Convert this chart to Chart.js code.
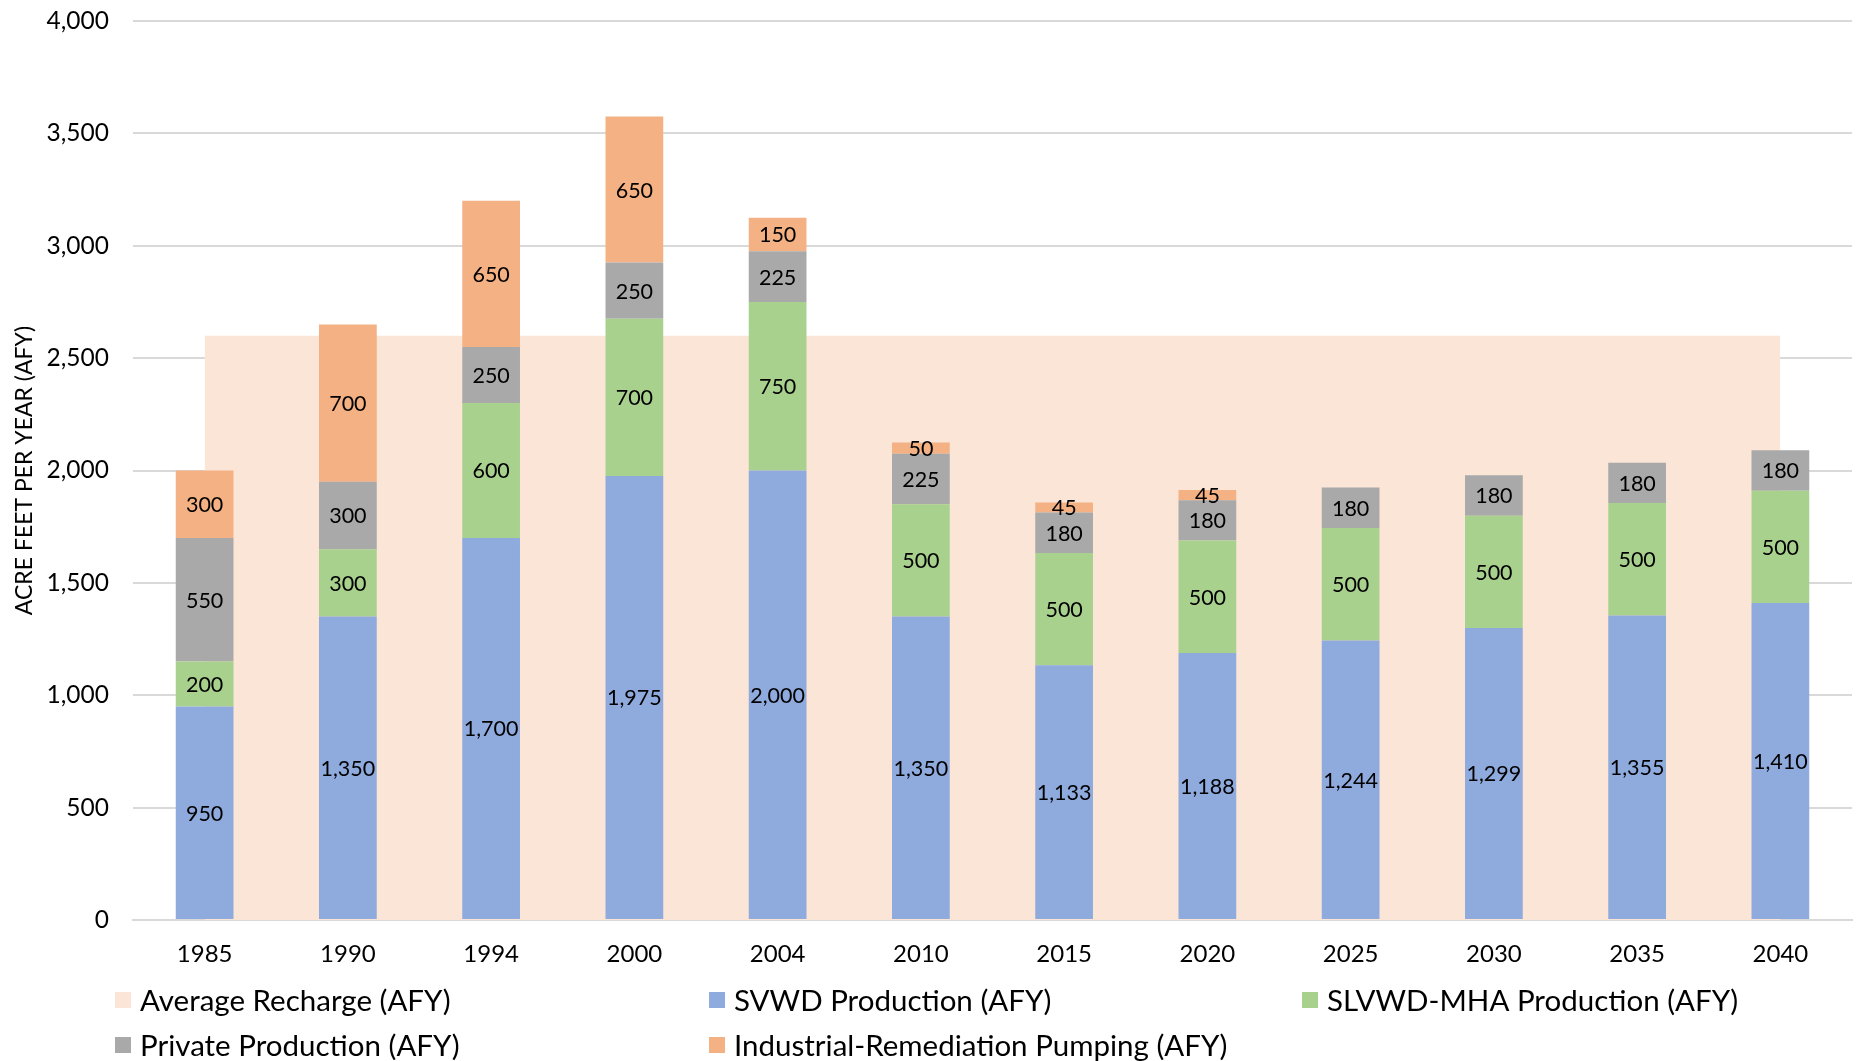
<!DOCTYPE html>
<html>
<head>
<meta charset="utf-8">
<script src="https://cdn.jsdelivr.net/npm/chart.js@4/dist/chart.umd.min.js"></script>
<style>
  html, body { margin: 0; padding: 0; background: #fff; }
  #wrap { width: 1861px; height: 1061px; position: relative; }
</style>
</head>
<body>
<div id="wrap"><canvas id="chart"></canvas></div>
<script>
// Categories (years) and series values, in acre feet per year
const years = ['1985', '1990', '1994', '2000', '2004', '2010', '2015', '2020', '2025', '2030', '2035', '2040'];
const averageRecharge = [2600, 2600, 2600, 2600, 2600, 2600, 2600, 2600, 2600, 2600, 2600, 2600];
const svwdProduction = [950, 1350, 1700, 1975, 2000, 1350, 1133, 1188, 1244, 1299, 1355, 1410];
const slvwdMhaProduction = [200, 300, 600, 700, 750, 500, 500, 500, 500, 500, 500, 500];
const privateProduction = [550, 300, 250, 250, 225, 225, 180, 180, 180, 180, 180, 180];
const industrialRemediation = [300, 700, 650, 650, 150, 50, 45, 45, null, null, null, null];
const yTicks = [0, 500, 1000, 1500, 2000, 2500, 3000, 3500, 4000];

const FONT = 'Lato, "Noto Sans", sans-serif';
const fmt = v => Number(v).toLocaleString('en-US');

// Writes each bar segment's value in the middle of the segment
const segmentLabels = {
  id: 'segmentLabels',
  afterDatasetsDraw(chart) {
    const ctx = chart.ctx;
    ctx.save();
    ctx.font = '21.5px ' + FONT;
    ctx.fillStyle = '#000';
    ctx.textAlign = 'center';
    ctx.textBaseline = 'middle';
    chart.data.datasets.forEach((ds, i) => {
      if (ds.type !== 'bar') return;
      const meta = chart.getDatasetMeta(i);
      meta.data.forEach((el, j) => {
        const v = ds.data[j];
        if (v === null || v === undefined) return;
        const y = (el.y + el.base) / 2;
        ctx.fillText(fmt(v), el.x, y + 1);
      });
    });
    ctx.restore();
  }
};

// Two-row legend laid out in fixed columns under the axis
const columnLegend = {
  id: 'columnLegend',
  afterDraw(chart) {
    const ctx = chart.ctx;
    const colX = [115, 709, 1302];
    const rowY = [1000, 1045];
    ctx.save();
    ctx.font = '29.5px ' + FONT;
    ctx.textBaseline = 'middle';
    ctx.textAlign = 'left';
    chart.data.datasets.forEach((ds, i) => {
      const col = i % 3, row = Math.floor(i / 3);
      const x = colX[col], y = rowY[row];
      ctx.fillStyle = ds.backgroundColor;
      ctx.fillRect(x, y - 8, 16, 16);
      ctx.fillStyle = '#000';
      ctx.fillText(ds.label, x + 25, y + 1);
    });
    ctx.restore();
  }
};

new Chart(document.getElementById('chart'), {
  data: {
    labels: years,
    datasets: [
      {
        type: 'line', label: 'Average Recharge (AFY)', data: averageRecharge,
        backgroundColor: '#FBE5D6', borderWidth: 0, borderColor: 'rgba(0,0,0,0)',
        fill: 'origin', pointRadius: 0, tension: 0, stack: 'recharge', order: 10
      },
      {
        type: 'bar', label: 'SVWD Production (AFY)', data: svwdProduction,
        backgroundColor: '#8FAADC', stack: 'production', order: 1
      },
      {
        type: 'bar', label: 'SLVWD-MHA Production (AFY)', data: slvwdMhaProduction,
        backgroundColor: '#A9D18E', stack: 'production', order: 1
      },
      {
        type: 'bar', label: 'Private Production (AFY)', data: privateProduction,
        backgroundColor: '#A9A9A9', stack: 'production', order: 1
      },
      {
        type: 'bar', label: 'Industrial-Remediation Pumping (AFY)', data: industrialRemediation,
        backgroundColor: '#F4B183', stack: 'production', order: 1
      }
    ]
  },
  options: {
    responsive: true,
    maintainAspectRatio: false,
    animation: false,
    layout: { padding: { top: 21, right: 9, bottom: 95, left: 0 } },
    datasets: { bar: { barPercentage: 1, categoryPercentage: 0.403 } },
    plugins: {
      legend: { display: false },
      tooltip: { enabled: false }
    },
    scales: {
      x: {
        stacked: true,
        grid: { display: false, drawTicks: false },
        border: { display: true, color: '#D9D9D9', width: 2 },
        ticks: { color: '#000', font: { family: FONT, size: 24 }, padding: 20 },
        afterFit: s => { s.height = 46; }
      },
      y: {
        stacked: true,
        min: 0, max: 4000,
        afterBuildTicks: s => { s.ticks = yTicks.map(v => ({ value: v })); },
        grid: { color: '#D9D9D9', lineWidth: 2, drawTicks: false },
        border: { display: false },
        ticks: { color: '#000', font: { family: FONT, size: 24.5 }, padding: 24, callback: v => fmt(v) },
        title: {
          display: true, text: 'ACRE FEET PER YEAR (AFY)', color: '#000',
          font: { family: FONT, size: 23 }, padding: { top: 11, bottom: 0 }
        },
        afterFit: s => { s.width = 133; s.paddingTop = 0; s.paddingBottom = 0; }
      }
    }
  },
  plugins: [segmentLabels, columnLegend]
});
</script>
</body>
</html>
